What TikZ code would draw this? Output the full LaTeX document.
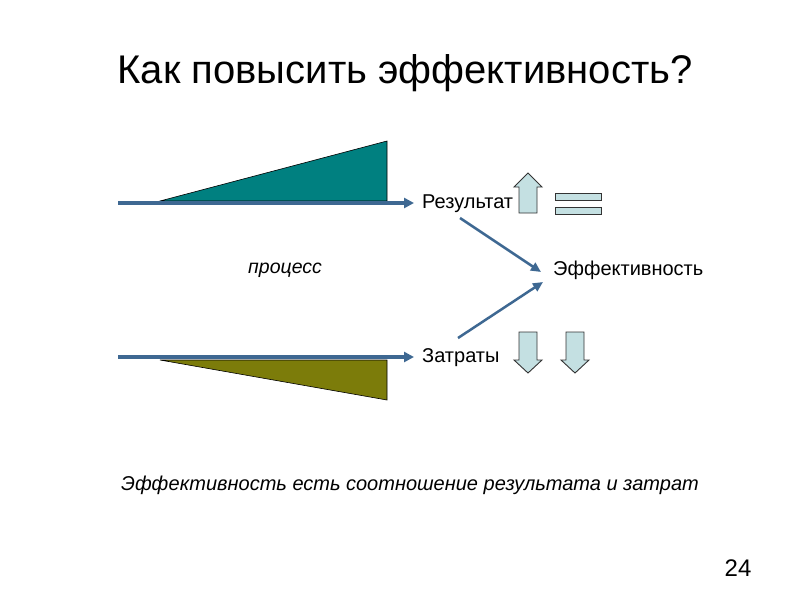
\documentclass[tikz,border=0pt]{standalone}
\usepackage{fontspec}
\setmainfont{Liberation Sans}
\usetikzlibrary{arrows.meta}
\definecolor{arrblue}{RGB}{62,104,146}
\definecolor{tealfill}{RGB}{0,128,128}
\definecolor{olivefill}{RGB}{124,124,10}
\definecolor{lightbl}{RGB}{196,224,226}
\begin{document}
\begin{tikzpicture}[x=1pt,y=-1pt,
  flow/.style={draw=arrblue,line width=3.5pt,-{Triangle[length=10pt,width=10pt]}},
  diag/.style={draw=arrblue,line width=2.5pt,-{Triangle[length=10pt,width=9pt]}},
  lbl/.style={inner sep=0pt,font=\fontsize{20}{24}\selectfont},
  blockar/.style={fill=lightbl,draw=black!80,line width=0.9pt},
  wedge/.style={draw=black,line width=0.6pt}]
\useasboundingbox (0,0) rectangle (800,600);
\fill[white] (0,0) rectangle (800,600);
\node[inner sep=0pt,font=\fontsize{40}{46}\selectfont] (title) at (405,73) {Как повысить эффективность?};
% wedges
\path[wedge,fill=tealfill] (160,201) -- (387,141) -- (387,201) -- cycle;
\path[wedge,fill=olivefill] (160,360) -- (387,360) -- (387,400) -- cycle;
% labels
\node[lbl,anchor=west] (res) at (422,204) {Результат};
\node[lbl,anchor=west] (cost) at (422,358) {Затраты};
\node[lbl,anchor=west] (eff) at (553,270) {Эффективность};
\node[lbl,anchor=west,font=\fontsize{19.5}{24}\selectfont\itshape] (proc) at (248,270) {процесс};
% flows
\coordinate (s1) at (118,203);
\coordinate (s2) at (118,357);
\draw[flow] (s1) -- ([xshift=-8pt]res.west|-s1);
\draw[flow] (s2) -- ([xshift=-8pt]cost.west|-s2);
\coordinate (d1s) at (460,218);
\coordinate (d2s) at (458,338);
\draw[diag] (d1s) -- ([xshift=-12pt,yshift=-2pt]eff.west);
\draw[diag] (d2s) -- ([xshift=-10pt,yshift=-12pt]eff.west);
% block arrows
\path[blockar] (519,213) -- (519,187) -- (514,187) -- (528,173) -- (542,187) -- (537,187) -- (537,213) -- cycle;
\path[blockar] (555,193) rectangle (601,200);
\path[blockar] (555,207) rectangle (601,214);
\path[blockar] (519,332) -- (519,360) -- (514,360) -- (528,373) -- (542,360) -- (537,360) -- (537,332) -- cycle;
\path[blockar] (566,332) -- (566,360) -- (561,360) -- (575,373) -- (589,360) -- (584,360) -- (584,332) -- cycle;
% bottom text
\node[inner sep=0pt,font=\fontsize{20}{24}\selectfont\itshape] (sent) at (410,485) {Эффективность есть соотношение результата и затрат};
\node[inner sep=0pt,font=\fontsize{24}{28}\selectfont] (num) at (738,568) {24};
\end{tikzpicture}
\end{document}
